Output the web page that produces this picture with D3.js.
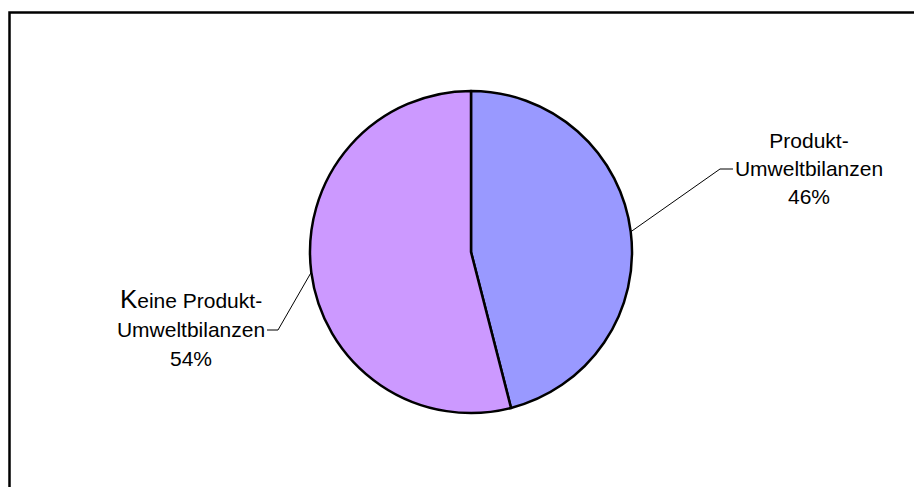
<!DOCTYPE html>
<html>
<head>
<meta charset="utf-8">
<script src="https://cdn.jsdelivr.net/npm/d3@7"></script>
<style>
  html, body { margin: 0; padding: 0; background: #fff; }
  svg { display: block; }
  text { font-family: "Liberation Sans", Arial, sans-serif; fill: #000; }
</style>
</head>
<body>
<svg id="chart" width="914" height="487"></svg>
<script>
// Data
const categories = ["Produkt-Umweltbilanzen", "Keine Produkt-Umweltbilanzen"];
const values = [46, 54];
const labelLines = [
  ["Produkt-", "Umweltbilanzen", "46%"],
  ["Keine Produkt-", "Umweltbilanzen", "54%"]
];
const colors = ["#9999FF", "#CC99FF"];

// Layout
const W = 914, H = 487;
const cx = 471, cy = 252, R = 161;
const fontSize = 21;
const labelLayout = [
  { x: 809, y0: 148, dy: 28, elbow: [720, 169], end: [733, 169] },
  { x: 191, y0: 308, dy: 29, elbow: [278, 330], end: [267, 330] }
];

const svg = d3.select("#chart");

// Frame (only top and left visible)
svg.append("rect")
  .attr("x", 9.5).attr("y", 12.5)
  .attr("width", W + 20).attr("height", H + 20)
  .attr("fill", "#fff").attr("stroke", "#000").attr("stroke-width", 2.5);

const pie = d3.pie().sort(null).value(d => d)(values);
const arc = d3.arc().innerRadius(0).outerRadius(R);

const g = svg.append("g").attr("transform", `translate(${cx},${cy})`);
g.selectAll("path.slice")
  .data(pie)
  .join("path")
  .attr("class", "slice")
  .attr("d", arc)
  .attr("fill", (d, i) => colors[i])
  .attr("stroke", "#000")
  .attr("stroke-width", 2.5)
  .attr("stroke-linejoin", "round");

// Leader lines
pie.forEach((d, i) => {
  const a = (d.startAngle + d.endAngle) / 2;
  const px = cx + R * Math.sin(a);
  const py = cy - R * Math.cos(a);
  const L = labelLayout[i];
  svg.append("polyline")
    .attr("points", [[px, py], L.elbow, L.end].map(p => p.join(",")).join(" "))
    .attr("fill", "none").attr("stroke", "#000").attr("stroke-width", 1);
});

// Labels
labelLines.forEach((lines, i) => {
  const L = labelLayout[i];
  const t = svg.append("text")
    .attr("text-anchor", "middle")
    .attr("font-size", fontSize);
  lines.forEach((line, j) => {
    const ts = t.append("tspan").attr("x", L.x).attr("y", L.y0 + j * L.dy);
    if (i === 1 && j === 0) {
      ts.append("tspan").attr("font-size", 26).text(line[0]);
      ts.append("tspan").text(line.slice(1));
    } else {
      ts.text(line);
    }
  });
});
</script>
</body>
</html>
